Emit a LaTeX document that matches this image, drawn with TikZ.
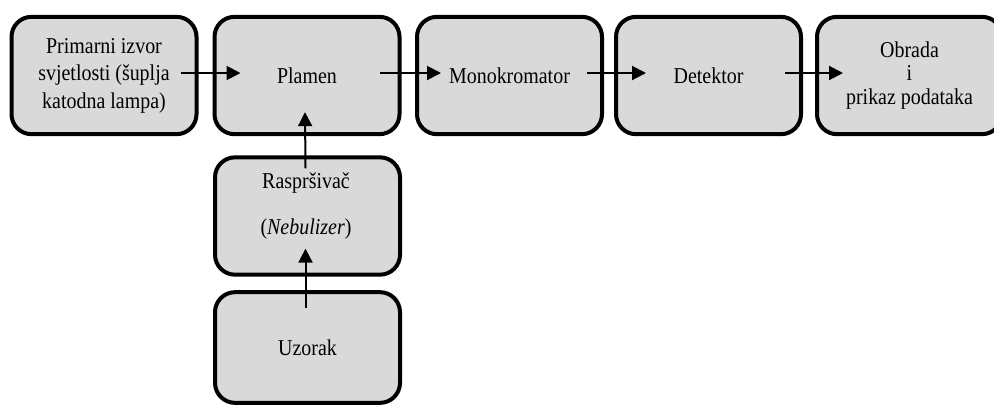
\documentclass[tikz,border=0pt]{standalone}
\usepackage{fontspec}
\setmainfont[FakeStretch=0.88]{Liberation Serif}
\usetikzlibrary{arrows.meta,calc}
\definecolor{boxfill}{HTML}{D9D9D9}
\begin{document}
\begin{tikzpicture}[x=0.75pt,y=-0.75pt,
  box/.style={draw=black,fill=boxfill,line width=3pt,rounded corners=15pt,
    minimum width=138.75pt,minimum height=88pt,align=center,inner sep=0pt,
    font=\fontsize{17}{20.6}\selectfont},
  lbl/.style={align=center,inner sep=0pt,font=\fontsize{17}{20.6}\selectfont},
  arr/.style={line width=1.5pt,-{Triangle[length=10.5pt,width=10.5pt]}}]
\useasboundingbox (0,0) rectangle (994,405);
\clip (0,0) rectangle (994,405);
\node[box] (b1) at (104,75.5) {Primarni izvor\\svjetlosti (šuplja\\katodna lampa)};
\node[box] (b2) at (307,75.5) {Plamen};
\node[box] (b3) at (509.5,75.5) {Monokromator};
\node[box] (b4) at (708.5,75.5) {Detektor};
\node[box,font=\fontsize{17}{17.6}\selectfont] (b5) at (909.5,75.5) {Obrada\\i\\prikaz podataka};
\node[box] (b6) at (307.5,216) {};
\node[lbl] (t6) at (306,206) {Raspršivač\\[14pt](\textit{Nebulizer})};
\node[box,minimum height=83pt] (b7) at (307.5,347.5) {Uzorak};
\draw[arr] ([shift={(-18,-2.5)}]b1.east) -- ([shift={(28,-2.5)}]b2.west);
\draw[arr] ([shift={(-22,-2.5)}]b2.east) -- ([shift={(26,-2.5)}]b3.west);
\draw[arr] ([shift={(-17,-2.5)}]b3.east) -- ([shift={(32,-2.5)}]b4.west);
\draw[arr] ([shift={(-18,-2.5)}]b4.east) -- ([shift={(28,-2.5)}]b5.west);
\draw[arr] ([shift={(-2,13)}]b6.north) -- ([shift={(-2,-24)}]b2.south);
\draw[arr] ([shift={(-2,18)}]b7.north) -- ([shift={(-2,-28)}]b6.south);
\end{tikzpicture}
\end{document}
